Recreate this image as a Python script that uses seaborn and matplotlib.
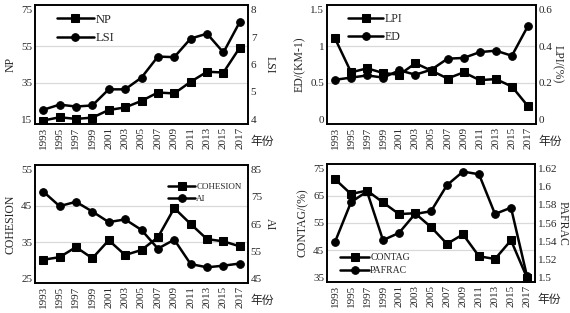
import numpy as np
import pandas as pd
import seaborn as sns
import matplotlib.pyplot as plt

years = [1993, 1995, 1997, 1999, 2001, 2003, 2005, 2007, 2009, 2011, 2013, 2015, 2017]

np_vals = [14.2, 16.0, 15.1, 15.8, 20.0, 21.4, 25.0, 29.6, 29.1, 35.5, 41.0, 40.6, 54.3]
lsi_vals = [4.34, 4.53, 4.46, 4.50, 5.09, 5.09, 5.52, 6.29, 6.27, 6.95, 7.13, 6.44, 7.56]

ed_vals = [0.54, 0.57, 0.60, 0.57, 0.67, 0.61, 0.68, 0.83, 0.84, 0.92, 0.94, 0.87, 1.28]
lpi_vals = [0.443, 0.257, 0.279, 0.253, 0.244, 0.307, 0.266, 0.223, 0.257, 0.214, 0.220, 0.179, 0.071]

cohesion_vals = [30.1, 30.8, 33.6, 30.5, 35.5, 31.4, 32.8, 36.3, 44.4, 40.0, 35.8, 35.2, 33.8]
ai_vals = [77.0, 71.6, 73.2, 69.6, 65.7, 66.7, 62.8, 55.9, 59.2, 50.2, 49.0, 49.6, 50.4]

contag_vals = [71.2, 65.7, 67.0, 62.6, 58.3, 58.6, 53.5, 47.3, 50.8, 42.7, 41.7, 48.6, 34.8]
pafrac_vals = [1.539, 1.583, 1.595, 1.541, 1.549, 1.570, 1.573, 1.602, 1.617, 1.614, 1.570, 1.577, 1.501]

sns.set_theme(style="white")
plt.rcParams['font.family'] = ['Liberation Serif', 'Noto Sans CJK SC']

W, H = 570, 313
fig = plt.figure(figsize=(W / 100, H / 100), dpi=100)


def rect(l, r, t, b):
    return [l / W, (H - b) / H, (r - l) / W, (b - t) / H]


def panel(box, lv, rv, lname, rname, lticks, rticks, sq_left, leg_kw):
    ax = fig.add_axes(rect(*box))
    ax2 = ax.twinx()
    pad = 0.045
    lspan = lticks[-1] - lticks[0]
    rspan = rticks[-1] - rticks[0]
    ax.set_ylim(lticks[0] - pad * lspan, lticks[-1] + pad * lspan)
    ax2.set_ylim(rticks[0] - pad * rspan, rticks[-1] + pad * rspan)
    for t in lticks[1:-1]:
        ax.axhline(t, color="#d9d9d9", lw=0.9, zorder=0)

    # square series always listed first in legend
    l_marker, r_marker = ("s", "o") if sq_left else ("o", "s")
    sns.lineplot(x=years, y=lv, ax=ax, color="black", marker=l_marker,
                 markersize=5.5, lw=1.8, markeredgecolor="black", label=lname,
                 legend=False)
    sns.lineplot(x=years, y=rv, ax=ax2, color="black", marker=r_marker,
                 markersize=5.5, lw=1.8, markeredgecolor="black", label=rname,
                 legend=False)

    ax.set_xlim(1992.0, 2018.0)
    ax.set_xticks(years)
    ax.set_xticklabels([str(y) for y in years], rotation=90, fontsize=8)
    ax.set_yticks(lticks)
    ax.set_yticklabels([f"{t:g}" for t in lticks], fontsize=8)
    ax2.set_yticks(rticks)
    ax2.set_yticklabels([f"{t:g}" for t in rticks], fontsize=8)
    for a in (ax, ax2):
        a.tick_params(length=0, pad=2)
        a.grid(False)
        for s in a.spines.values():
            s.set_color("black")
            s.set_linewidth(1.2)
    ax.set_ylabel(leg_kw.pop("ylabel"), fontsize=8.5, labelpad=3)
    ax2.set_ylabel(leg_kw.pop("y2label"), fontsize=8.5, rotation=270,
                   labelpad=leg_kw.pop("rpad", 10))
    ax.text(1.01, -0.15, "年份", transform=ax.transAxes, fontsize=8.5,
            ha="left", va="center")

    h1, lab1 = ax.get_legend_handles_labels()
    h2, lab2 = ax2.get_legend_handles_labels()
    if sq_left:
        handles, labels = h1 + h2, lab1 + lab2
    else:
        handles, labels = h2 + h1, lab2 + lab1
    ax2.legend(handles, labels, frameon=False, handlelength=3.0,
               handletextpad=0.1, borderpad=0.2, **leg_kw)
    return ax, ax2


panel((35, 248, 5, 124), np_vals, lsi_vals, "NP", "LSI",
      [15, 35, 55, 75], [4, 5, 6, 7, 8], True,
      dict(loc="upper left", bbox_to_anchor=(0.06, 1.0), fontsize=9,
           labelspacing=0.5, ylabel="NP", y2label="LSI", rpad=14))

panel((327, 536, 5, 124), ed_vals, lpi_vals, "ED", "LPI",
      [0, 0.5, 1, 1.5], [0, 0.2, 0.4, 0.6], False,
      dict(loc="upper left", bbox_to_anchor=(0.06, 1.0), fontsize=8.5,
           labelspacing=0.5, ylabel="ED/(KM-1)", y2label="LPI/(%)", rpad=8))

panel((35, 248, 165, 283), cohesion_vals, ai_vals, "COHESION", "AI",
      [25, 35, 45, 55], [45, 55, 65, 75, 85], True,
      dict(loc="upper right", bbox_to_anchor=(1.0, 0.9), fontsize=6.5,
           labelspacing=0.4, ylabel="COHESION", y2label="AI", rpad=10))

panel((327, 535, 164, 282), contag_vals, pafrac_vals, "CONTAG", "PAFRAC",
      [35, 45, 55, 65, 75], [1.5, 1.52, 1.54, 1.56, 1.58, 1.6, 1.62], True,
      dict(loc="lower left", bbox_to_anchor=(0.03, 0.0), fontsize=7,
           labelspacing=0.4, ylabel="CONTAG/(%)", y2label="PAFRAC", rpad=8))

fig.savefig("out.png", dpi=100, facecolor="white")
